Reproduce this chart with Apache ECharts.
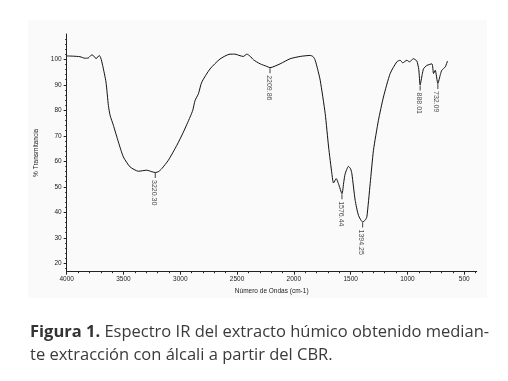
<!DOCTYPE html>
<html>
<head>
<meta charset="utf-8">
<script src="https://cdn.jsdelivr.net/npm/echarts@6/dist/echarts.min.js"></script>
<style>
  html, body { margin: 0; padding: 0; background: #fff; }
  #chart { width: 508px; height: 381px; }
</style>
</head>
<body>
<div id="chart"></div>
<script>
// spectrum: wavenumber (cm-1) and % transmittance
const wavenumbers = [3998, 3940, 3883, 3840, 3810, 3780, 3755, 3742, 3713, 3700, 3683, 3654, 3633, 3618, 3589, 3545, 3501, 3442, 3369, 3295, 3250, 3220, 3190, 3163, 3105, 3031, 2973, 2914, 2890, 2870, 2840, 2811, 2738, 2650, 2562, 2520, 2474, 2445, 2414, 2385, 2356, 2297, 2238, 2210, 2121, 2033, 1944, 1856, 1830, 1812, 1790, 1768, 1724, 1694, 1665, 1651, 1627, 1607, 1576, 1560, 1548, 1519, 1500, 1489, 1460, 1431, 1394, 1370, 1357, 1328, 1299, 1255, 1211, 1152, 1093, 1064, 1041, 1005, 982, 947, 917, 900, 888, 870, 858, 828, 784, 770, 755, 732, 710, 697, 667, 647]
const transmittance = [101.3, 101.2, 101.0, 100.4, 100.5, 101.7, 101.0, 100.2, 101.5, 100.5, 97.5, 91, 81.9, 78, 74.1, 67.6, 61.7, 57.8, 56.1, 56.5, 55.9, 55.6, 56, 57.1, 60.4, 66.2, 71.4, 77.3, 80, 83.8, 86.5, 91, 96.2, 100.1, 102, 102, 101.4, 101.1, 102, 101.2, 99.8, 98.2, 97.2, 96.7, 98.2, 100.2, 101.1, 101.5, 101, 99.6, 96, 91.8, 78.7, 65.6, 55.1, 51.5, 53.2, 51.2, 47.3, 52, 55.1, 58, 57, 55.1, 44.7, 38.8, 36.2, 37, 38.2, 51.2, 64.3, 76.1, 85.2, 94.4, 99, 99.6, 98.6, 99.6, 99, 100.2, 99.3, 96, 89.9, 94, 96.3, 97.6, 98.2, 94.4, 95.7, 90.5, 94, 95.7, 97, 99.3]

// labelled bands
const peakPositions = [3220.30, 2209.86, 1576.44, 1394.25, 888.01, 732.09]
const peakValues = [55.6, 96.7, 47.3, 36.2, 89.9, 90.5]

// axis ticks
const xTickLabels = [4000, 3500, 3000, 2500, 2000, 1500, 1000, 500]
const xMinorTicks = []
for (let v = 4000; v >= 400; v -= 100) xMinorTicks.push(v)
const yTickLabels = [20, 30, 40, 50, 60, 70, 80, 90, 100]
const yMinorTicks = []
for (let v = 18; v <= 108; v += 2) yMinorTicks.push(v)

const axisColor = '#222'
const tickFont = { fontSize: 6.5, fontFamily: 'Liberation Sans', color: '#222', formatter: (v) => String(v) }

const chart = echarts.init(document.getElementById('chart'), null, { renderer: 'canvas' })

const gridBox = { left: 66.7, right: 31.3, top: 34, bottom: 109.3, containLabel: false }

const xCommon = {
  type: 'value',
  inverse: true,
  min: 390,
  max: 4000,
  position: 'bottom',
  splitLine: { show: false },
}
const yCommon = {
  type: 'value',
  min: 16.71,
  max: 109.9,
  position: 'left',
  splitLine: { show: false },
}

chart.setOption({
  backgroundColor: '#ffffff',
  animation: false,
  // second grid sits on the first one and only carries the minor ticks
  grid: [{ ...gridBox }, { ...gridBox }],
  graphic: [
    {
      type: 'rect',
      z: -10,
      shape: { x: 28, y: 20, width: 459, height: 278 },
      style: { fill: '#fafafa' },
    },
    {
      type: 'text',
      left: 30,
      top: 321,
      style: {
        text: '{b|Figura 1.} Espectro IR del extracto húmico obtenido median-\nte extracción con álcali a partir del CBR.',
        fontSize: 16.5,
        fontFamily: 'Open Sans',
        lineHeight: 23,
        fill: '#3a3a3a',
        rich: {
          b: { fontSize: 16.5, fontFamily: 'Open Sans', fontWeight: 'bold', fill: '#333', lineHeight: 23 },
        },
      },
    },
  ],
  xAxis: [
    {
      ...xCommon,
      gridIndex: 0,
      name: 'Número de Ondas (cm-1)',
      nameLocation: 'middle',
      nameGap: 14,
      nameTextStyle: { fontSize: 6.5, fontFamily: 'Liberation Sans', color: '#222' },
      axisLine: { lineStyle: { color: axisColor, width: 1 } },
      axisTick: { length: 3, customValues: xTickLabels, lineStyle: { color: axisColor } },
      axisLabel: { ...tickFont, margin: 4, customValues: xTickLabels },
    },
    {
      ...xCommon,
      gridIndex: 1,
      axisLine: { show: false },
      axisTick: { show: true, length: 1.5, customValues: xMinorTicks, lineStyle: { color: axisColor } },
      axisLabel: { show: false, customValues: xMinorTicks },
    },
  ],
  yAxis: [
    {
      ...yCommon,
      gridIndex: 0,
      name: '% Transmitancia',
      nameLocation: 'middle',
      nameGap: 24,
      nameTextStyle: { fontSize: 6.5, fontFamily: 'Liberation Sans', color: '#222' },
      axisLine: { show: true, lineStyle: { color: axisColor, width: 1 } },
      axisTick: { show: true, length: 3, customValues: yTickLabels, lineStyle: { color: axisColor } },
      axisLabel: { ...tickFont, margin: 5, customValues: yTickLabels },
    },
    {
      ...yCommon,
      gridIndex: 1,
      axisLine: { show: false },
      axisTick: { show: true, length: 1.5, customValues: yMinorTicks, lineStyle: { color: axisColor } },
      axisLabel: { show: false, customValues: yMinorTicks },
    },
  ],
  series: [
    {
      type: 'line',
      xAxisIndex: 0,
      yAxisIndex: 0,
      data: wavenumbers.map((w, i) => [w, transmittance[i]]),
      showSymbol: false,
      smooth: 0.2,
      lineStyle: { color: '#111', width: 1 },
    },
    {
      type: 'scatter',
      xAxisIndex: 0,
      yAxisIndex: 0,
      data: peakPositions.map((w, i) => [w, peakValues[i]]),
      symbol: 'rect',
      symbolSize: [1, 5],
      symbolOffset: [0, 3],
      itemStyle: { color: '#111' },
      label: {
        show: true,
        position: 'bottom',
        distance: 2,
        rotate: -90,
        align: 'left',
        verticalAlign: 'middle',
        offset: [0, 1.5],
        fontSize: 7,
        fontFamily: 'Liberation Sans',
        color: '#222',
        formatter: (p) => p.value[0].toFixed(2),
      },
    },
  ],
})
</script>
</body>
</html>
